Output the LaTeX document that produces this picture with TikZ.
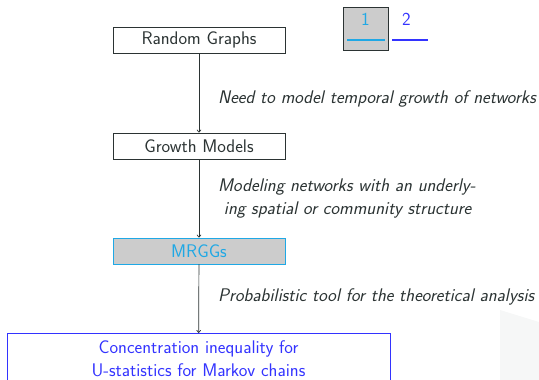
\documentclass[tikz,border=0pt]{standalone}
\usepackage{fontspec}
\usetikzlibrary{arrows.meta}
\definecolor{txt}{rgb}{0.17,0.2,0.2}
\definecolor{cyanish}{rgb}{0.12,0.66,0.9}
\definecolor{blueish}{rgb}{0.2,0.2,1}
\definecolor{boxgray}{rgb}{0.8,0.8,0.8}
\definecolor{faint}{rgb}{0.965,0.97,0.97}
\begin{document}
\begin{tikzpicture}[x=1pt,y=-1pt,
  font=\sffamily\fontsize{18.3}{23}\selectfont,
  stepbox/.style={draw=txt,line width=0.8pt,minimum width=172pt,minimum height=26pt,inner sep=0pt,text=txt},
  conn/.style={draw=txt,line width=0.7pt,-{To[length=3pt,width=4.5pt]}},
  lbl/.style={anchor=west,text=txt,font=\sffamily\itshape\fontsize{18.3}{23}\selectfont,align=left,inner sep=0pt}]
\useasboundingbox (0,0) rectangle (539,380);
\clip (0,0) rectangle (539,380);
\fill[faint] (500,310) -- (539,322) -- (539,380) -- (500,380) -- cycle;
% tabs
\node[draw=txt,fill=boxgray,line width=0.8pt,minimum width=45pt,minimum height=43pt,inner sep=0pt] (tab1) at (365.5,28.5) {};
\node[text=cyanish,inner sep=0pt] (one) at (365.5,19) {1};
\node[text=blueish,inner sep=0pt] (two) at (406.5,19) {2};
\coordinate (u1a) at (347,40); \coordinate (u1b) at (385,40);
\coordinate (u2a) at (392,40); \coordinate (u2b) at (428,40);
\draw[cyanish,line width=1.1pt] (u1a) -- (u1b);
\draw[blueish,line width=1.1pt] (u2a) -- (u2b);
% main nodes
\node[stepbox] (rg) at (199,40) {Random Graphs};
\node[stepbox] (gm) at (199,146) {Growth Models};
\node[stepbox,draw=cyanish,fill=boxgray,text=cyanish] (mr) at (199,251) {MRGGs};
\node[draw=blueish,line width=0.8pt,minimum width=383pt,minimum height=70pt,anchor=north,inner sep=0pt] (ci) at (198.5,333) {};
\node[text=blueish,align=center,inner sep=0pt,anchor=north] (citext) at (198.5,340) {Concentration inequality for\\U-statistics for Markov chains};
\draw[conn] (rg) -- (gm);
\draw[conn] (gm) -- (mr);
\draw[conn] (mr) -- (ci);
\node[lbl] (l1) at (218,98.5) {Need to model temporal growth of networks};
\node[lbl] (l2) at (218,198.5) {Modeling networks with an underly-\\\ ing spatial or community structure};
\node[lbl] (l3) at (218,296.5) {Probabilistic tool for the theoretical analysis};
\end{tikzpicture}
\end{document}
